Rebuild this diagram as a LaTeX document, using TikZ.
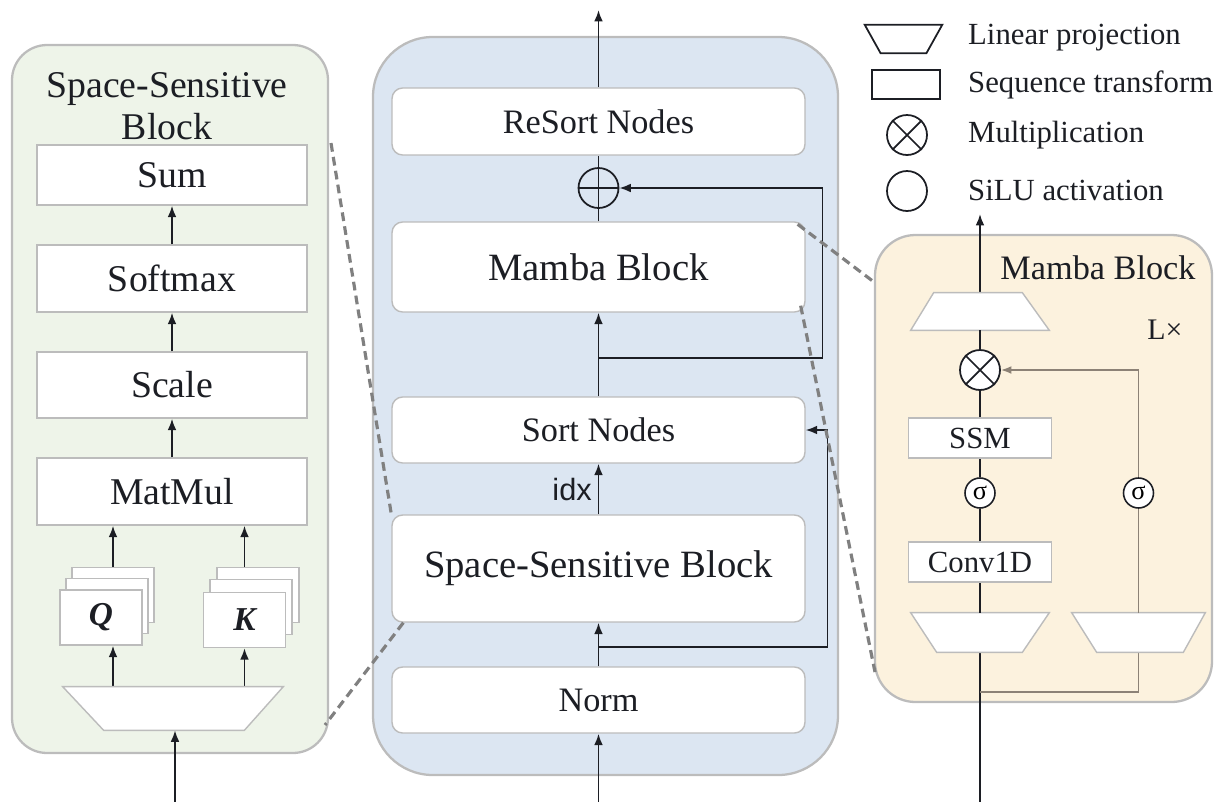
\documentclass[tikz,border=0pt]{standalone}
\usepackage{fontspec}
\setmainfont{Liberation Serif}
\newfontfamily\idxfont{Liberation Sans}
\usetikzlibrary{arrows.meta,calc}

\definecolor{greenbg}{RGB}{238,244,233}
\definecolor{bluebg}{RGB}{220,230,242}
\definecolor{beigebg}{RGB}{252,242,222}
\definecolor{edgegray}{RGB}{188,188,188}
\definecolor{linkgray}{RGB}{128,128,128}
\definecolor{branchbrown}{RGB}{140,130,118}
\definecolor{inkdark}{RGB}{28,30,36}

\tikzset{
  panel/.style={draw=edgegray, line width=1.3pt},
  cbox/.style={draw=edgegray, fill=white, line width=0.8pt, rounded corners=6pt, minimum width=8.26cm, text=inkdark, font=\fontsize{19.5}{22}\selectfont},
  cbig/.style={font=\fontsize{22}{26}\selectfont},
  sbox/.style={draw=edgegray, fill=white, line width=0.8pt, minimum width=5.4cm, text=inkdark, font=\fontsize{21.5}{24}\selectfont},
  qkbox/.style={draw=edgegray, fill=white, line width=0.8pt, minimum width=1.64cm, minimum height=1.1cm, text=inkdark, font=\fontsize{19}{22}\selectfont\bfseries\itshape},
  mbox/.style={draw=edgegray, fill=white, line width=0.8pt, minimum width=2.86cm, minimum height=0.8cm, text=inkdark, font=\fontsize{17.5}{20}\selectfont},
  tslot/.style={inner sep=0pt},
  trapline/.style={draw=edgegray, fill=white, line width=0.8pt},
  sig/.style={circle, draw=inkdark, fill=white, line width=0.9pt, minimum size=0.6cm, inner sep=0pt, font=\fontsize{15}{16}\selectfont},
  opcirc/.style={circle, draw=inkdark, line width=1pt, inner sep=0pt},
  legtext/.style={anchor=west, text=inkdark, font=\fontsize{17.5}{20}\selectfont},
  wire/.style={draw=inkdark, line width=1pt},
  arr/.style={wire, -{Latex[length=6.5pt,width=5pt]}},
  brwire/.style={draw=branchbrown, line width=1pt},
  dashlink/.style={draw=linkgray, line width=1.8pt, dash pattern=on 5pt off 3pt}
}

\begin{document}
\begin{tikzpicture}[x=0.02cm, y=-0.02cm]
\useasboundingbox (0,0) rectangle (1215,802);

\draw[panel, fill=greenbg, rounded corners=20pt] (12,45) rectangle (328,753);
\draw[panel, fill=bluebg, rounded corners=34pt] (373,37) rectangle (838,775);
\draw[panel, fill=beigebg, rounded corners=23pt] (875,235) rectangle (1212,702);

% legend
\node[tslot, minimum width=1.54cm, minimum height=0.56cm] (lgtrap) at (903.5,39) {};
\draw[wire] (lgtrap.north west) -- (lgtrap.north east) -- ([xshift=-0.32cm]lgtrap.south east) -- ([xshift=0.32cm]lgtrap.south west) -- cycle;
\node[legtext] (lgtrapt) at (962,38) {Linear projection};
\node[draw=inkdark, line width=1pt, minimum width=1.36cm, minimum height=0.58cm] (lgrect) at (906,84.5) {};
\node[legtext] (lgrectt) at (962,85) {Sequence transform};
\node[opcirc, minimum size=0.8cm] (lgmul) at (907,135) {};
\draw[wire] (lgmul.north west) -- (lgmul.south east) (lgmul.north east) -- (lgmul.south west);
\node[legtext] (lgmult) at (962,135) {Multiplication};
\node[opcirc, minimum size=0.8cm] (lgsilu) at (907,191) {};
\node[legtext] (lgsilut) at (962,190) {SiLU activation};

% middle column
\node[cbox, minimum height=1.34cm] (resort) at (598.5,121.5) {ReSort Nodes};
\node[cbox, cbig, minimum height=1.8cm] (mamba) at (598.5,267) {Mamba Block};
\node[cbox, minimum height=1.32cm] (sort) at (598.5,430) {Sort Nodes};
\node[cbox, cbig, minimum height=2.14cm] (ssb) at (598.5,568.5) {Space-Sensitive Block};
\node[cbox, minimum height=1.32cm] (norm) at (598.5,700) {Norm};
\node[opcirc, minimum size=0.8cm] (plus) at (598.5,188) {};
\draw[wire] (plus.north) -- (plus.south) (plus.west) -- (plus.east);

\coordinate (cin) at (598.5,802);
\coordinate (cout) at (598.5,10);
\coordinate (cb1) at (598.5,647);
\coordinate (cb2) at (598.5,358);
\draw[arr] (cin) -- (norm.south);
\draw[arr] (norm.north) -- (ssb.south);
\draw[arr] (cb1) -- ++(229,0) |- (sort.east);
\draw[arr] (ssb.north) -- node[left, text=inkdark, font=\idxfont\fontsize{17.5}{20}\selectfont] (idx) {idx} (sort.south);
\draw[arr] (sort.north) -- (mamba.south);
\draw[arr] (cb2) -- ++(224,0) |- (plus.east);
\draw[wire] (mamba.north) -- (plus.south);
\draw[wire] (plus.north) -- (resort.south);
\draw[arr] (resort.north) -- (cout);

% left panel
\node[align=center, text=inkdark, font=\fontsize{21.5}{24}\selectfont] (sstitle) at (167,106) {Space-Sensitive\\Block};
\node[sbox, minimum height=1.2cm] (sum) at (172,175) {Sum};
\node[sbox, minimum height=1.34cm] (softmax) at (172,278.5) {Softmax};
\node[sbox, minimum height=1.32cm] (scale) at (172,385) {Scale};
\node[sbox, minimum height=1.34cm] (matmul) at (172,491.5) {MatMul};
\node[qkbox] (q3) at (113,595) {};
\node[qkbox] (q2) at (107,606) {};
\node[qkbox] (q1) at (101,617.5) {Q};
\node[qkbox] (k3) at (258,595) {};
\node[qkbox] (k2) at (251,607) {};
\node[qkbox] (k1) at (244.5,620) {K};
\node[tslot, minimum width=4.4cm, minimum height=0.86cm] (sproj) at (173,708.5) {};
\coordinate (sin) at (175,802);

\draw[arr] (softmax.north) -- (sum.south);
\draw[arr] (scale.north) -- (softmax.south);
\draw[arr] (matmul.north) -- (scale.south);
\draw[arr] (q3 |- sproj.north) -- (q3 |- q1.south);
\draw[arr] (q3.north) -- (q3 |- matmul.south);
\draw[arr] (k1 |- sproj.north) -- (k1.south);
\draw[arr] (k1 |- k3.north) -- (k1 |- matmul.south);
\draw[arr] (sin) -- (sin |- sproj.south);
\draw[trapline] (sproj.north west) -- (sproj.north east) -- ([xshift=-0.78cm]sproj.south east) -- ([xshift=0.82cm]sproj.south west) -- cycle;

% right panel
\node[text=inkdark, font=\fontsize{19.5}{22}\selectfont] (mbtitle) at (1098,268) {Mamba Block};
\node[text=inkdark, font=\fontsize{17}{20}\selectfont] (layers) at (1165,330) {L×};
\node[tslot, minimum width=2.76cm, minimum height=0.74cm] (upproj) at (980,311.5) {};
\node[tslot, minimum width=2.76cm, minimum height=0.78cm] (down1) at (980,632.5) {};
\node[tslot, minimum width=2.66cm, minimum height=0.78cm] (down2) at (1138.5,632.5) {};
\coordinate (min) at (980,802);
\coordinate (mout) at (980,214);
\coordinate (mb) at (980,692);

\draw[wire] (min) -- (down1.south);
\draw[brwire] (mb) -| (down2.south);
\draw[arr] (upproj.north) -- (mout);
\draw[trapline] (upproj.south west) -- (upproj.south east) -- ([xshift=-0.54cm]upproj.north east) -- ([xshift=0.46cm]upproj.north west) -- cycle;
\draw[trapline] (down1.north west) -- (down1.north east) -- ([xshift=-0.54cm]down1.south east) -- ([xshift=0.52cm]down1.south west) -- cycle;
\draw[trapline] (down2.north west) -- (down2.north east) -- ([xshift=-0.44cm]down2.south east) -- ([xshift=0.5cm]down2.south west) -- cycle;

\node[opcirc, fill=white, minimum size=0.8cm] (mul) at (980,370) {};
\draw[wire] (mul.north west) -- (mul.south east) (mul.north east) -- (mul.south west);
\node[mbox] (ssm) at (980,438) {SSM};
\node[sig] (sig1) at (980,493) {σ};
\node[mbox] (conv) at (980,562) {Conv1D};
\node[sig] (sig2) at (1138.5,493) {σ};

\draw[wire] (down1.north) -- (conv.south);
\draw[wire] (conv.north) -- (sig1.south);
\draw[wire] (sig1.north) -- (ssm.south);
\draw[wire] (ssm.north) -- (mul.south);
\draw[wire] (mul.north) -- (upproj.south);
\draw[brwire] (down2.north) -- (sig2.south);
\draw[brwire, -{Latex[length=6pt,width=4.5pt]}] (sig2.north) |- (mul.east);

% zoom links
\coordinate (lp1) at (331,143);
\coordinate (lp2) at (325,725);
\coordinate (rp1) at (874,282);
\coordinate (rp2) at (875,672);
\draw[dashlink] (lp1) -- (ssb.north west);
\draw[dashlink] ($(ssb.south west)+(12,0)$) -- (lp2);
\draw[dashlink] ($(mamba.north east)+(-8,3)$) -- (rp1);
\draw[dashlink] ($(mamba.south east)+(-5,-7)$) -- (rp2);
\end{tikzpicture}
\end{document}
